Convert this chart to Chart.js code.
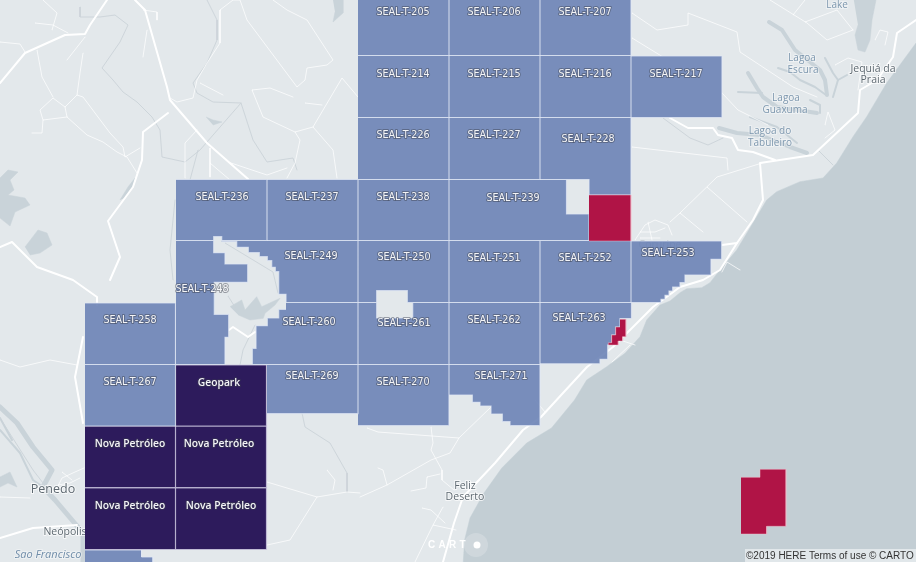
<!DOCTYPE html>
<html>
<head>
<meta charset="utf-8">
<title>SEAL blocks</title>
<script src="https://cdn.jsdelivr.net/npm/chart.js@4"></script>
<style>
    html, body { margin: 0; padding: 0; background: #e3e8eb; overflow: hidden; }
    canvas { display: block; }
</style>
</head>
<body>
<canvas id="mapChart" width="916" height="562"></canvas>
<script>
// Block names, the group each one falls in, and its outline (x, y pairs)
const blockNames = [
    'SEAL-T-205', 'SEAL-T-206', 'SEAL-T-207',
    'SEAL-T-214', 'SEAL-T-215', 'SEAL-T-216', 'SEAL-T-217',
    'SEAL-T-226', 'SEAL-T-227', 'SEAL-T-228',
    'SEAL-T-236', 'SEAL-T-237', 'SEAL-T-238', 'SEAL-T-239',
    'SEAL-T-248', 'SEAL-T-249', 'SEAL-T-250', 'SEAL-T-251', 'SEAL-T-252', 'SEAL-T-253',
    'SEAL-T-258', 'SEAL-T-260', 'SEAL-T-261', 'SEAL-T-262', 'SEAL-T-263',
    'SEAL-T-267', 'SEAL-T-269', 'SEAL-T-270', 'SEAL-T-271',
    'Geopark', 'Nova Petróleo', 'Nova Petróleo', 'Nova Petróleo', 'Nova Petróleo'
];
const blockGroups = [
    'open', 'open', 'open',
    'open', 'open', 'open', 'open',
    'open', 'open', 'open',
    'open', 'open', 'open', 'open',
    'open', 'open', 'open', 'open', 'open', 'open',
    'open', 'open', 'open', 'open', 'open',
    'open', 'open', 'open', 'open',
    'held', 'held', 'held', 'held', 'held'
];
const blockOutlines = [
    [358, -6, 449, -6, 449, 55.5, 358, 55.5],
    [449, -6, 540, -6, 540, 55.5, 449, 55.5],
    [540, -6, 631, -6, 631, 55.5, 540, 55.5],
    [358, 55.5, 449, 55.5, 449, 117.5, 358, 117.5],
    [449, 55.5, 540, 55.5, 540, 117.5, 449, 117.5],
    [540, 55.5, 631, 55.5, 631, 117.5, 540, 117.5],
    [631, 56, 722, 56, 722, 117.5, 631, 117.5],
    [358, 117.5, 449, 117.5, 449, 179.5, 358, 179.5],
    [449, 117.5, 540, 117.5, 540, 179.5, 449, 179.5],
    [540, 117.5, 631, 117.5, 631, 195, 589, 195, 589, 179.5, 540, 179.5],
    [176, 179.5, 267, 179.5, 267, 240.5, 221.7, 240.5, 221.7, 236.7, 213.7, 236.7, 213.7, 240.5, 176, 240.5],
    [267, 179.5, 358, 179.5, 358, 240.5, 267, 240.5],
    [358, 179.5, 449, 179.5, 449, 240.5, 358, 240.5],
    [449, 179.5, 566.5, 179.5, 566.5, 214, 589, 214, 589, 240.5, 449, 240.5],
    [176, 240.5, 213.7, 240.5, 213.7, 252.7, 225, 252.7, 225, 264, 247.7, 264, 247.7, 282.3, 214.3, 282.3, 214.3, 314.3, 228.7, 314.3, 228.7, 337.3, 225, 337.3, 225, 364.5, 176, 364.5],
    [221.7, 240.5, 358, 240.5, 358, 302.5, 286, 302.5, 286, 294.3, 278.7, 294.3, 278.7, 271.7, 275.3, 271.7, 275.3, 267.3, 271.7, 267.3, 271.7, 260.7, 267.3, 260.7, 267.3, 256.7, 259.3, 256.7, 259.3, 252.7, 248.3, 252.7, 248.3, 247.3, 236.7, 247.3, 236.7, 241.7, 221.7, 241.7],
    [358, 240.5, 449, 240.5, 449, 302.5, 407.3, 302.5, 407.3, 290.7, 376.7, 290.7, 376.7, 302.5, 358, 302.5],
    [449, 240.5, 540, 240.5, 540, 302.5, 449, 302.5],
    [540, 240.5, 631, 240.5, 631, 302.5, 540, 302.5],
    [631, 241, 721.7, 241, 721.7, 259.3, 711, 259.3, 711, 275, 685, 275, 685, 282.7, 680, 282.7, 680, 287, 672.7, 287, 672.7, 291, 669, 291, 669, 295.3, 665, 295.3, 665, 299.3, 661, 299.3, 661, 302.5, 631, 302.5],
    [85, 303, 175.5, 303, 175.5, 364.5, 85, 364.5],
    [286, 302.5, 358, 302.5, 358, 364.5, 252.3, 364.5, 252.3, 348.3, 256, 348.3, 256, 325.7, 267.3, 325.7, 267.3, 318, 278.7, 318, 278.7, 309.3, 286, 309.3],
    [358, 302.5, 376.7, 302.5, 376.7, 318, 412.7, 318, 412.7, 302.5, 449, 302.5, 449, 364.5, 358, 364.5],
    [449, 302.5, 540, 302.5, 540, 364.5, 449, 364.5],
    [540, 302.5, 631.5, 302.5, 631.5, 318.5, 620, 318.5, 620, 327, 615.7, 327, 615.7, 335, 611.7, 335, 611.7, 342.7, 607.7, 345, 607.7, 359.3, 600, 359.3, 600, 363.8, 540, 363.8],
    [85, 364.5, 175.5, 364.5, 175.5, 426, 85, 426],
    [267, 364.5, 358, 364.5, 358, 413.7, 267, 413.7],
    [358, 364.5, 449, 364.5, 449, 425.7, 358, 425.7],
    [449, 364.5, 540, 364.5, 540, 425.7, 510, 425.7, 510, 421.7, 502.3, 421.7, 502.3, 414, 491, 414, 491, 406, 480, 406, 480, 402.3, 472.3, 402.3, 472.3, 395, 449, 395],
    [175.5, 365, 266.5, 365, 266.5, 426, 175.5, 426],
    [85, 426, 175.5, 426, 175.5, 487.7, 85, 487.7],
    [175.5, 426, 266.5, 426, 266.5, 487.7, 175.5, 487.7],
    [85, 487.7, 175.5, 487.7, 175.5, 549.5, 85, 549.5],
    [175.5, 487.7, 266.5, 487.7, 266.5, 549.5, 175.5, 549.5]
];
const blockLabelX = [403, 494, 585, 403, 494, 585, 676, 403, 494, 588, 222, 312, 403, 513, 202, 311, 404, 494, 585, 668, 130, 309, 404, 494, 579, 130, 312, 403, 501, 219, 130, 219, 130, 221];
const blockLabelY = [12, 12, 12, 74, 74, 74, 74, 135, 135, 139, 197, 197, 197, 198, 289, 256, 257, 258, 258, 253, 320, 322, 323, 320, 318, 382, 376, 382, 376, 383, 444, 444, 506, 506];

// Blocks without a name on the map
const unnamedBlocks = [
    [85, 550, 141.5, 550, 141.5, 557, 153, 557, 153, 570, 85, 570]
];
const redBlocks = [
    [589, 195, 631, 195, 631, 241, 589, 241],
    [620, 319.3, 626, 319.3, 626, 336.7, 622.7, 336.7, 622.7, 341, 618.3, 341, 618.3, 345, 608.3, 345, 608.3, 342.7, 611.7, 342.7, 611.7, 335, 615.7, 335, 615.7, 327, 620, 327],
    [741, 477.3, 760, 477.3, 760, 469.3, 786, 469.3, 786, 526.3, 766.7, 526.3, 766.7, 534, 741, 534]
];

// Coast and water
const seaOutline = [916, 43, 886.7, 83, 866.7, 116.7, 853, 136.7, 836.7, 163, 823, 178, 800, 181.7, 776.7, 191.7, 766.7, 200, 753, 223, 736.7, 250, 721.7, 267.7, 710, 282.7, 701.7, 287.7, 686.7, 288.7, 680, 292.7, 670, 301, 660, 305, 646.7, 320, 640, 336.7, 625, 353.3, 606.7, 366.7, 586.7, 380, 574.5, 400, 551.5, 428, 526.7, 443, 501.8, 468, 484, 493, 470, 518, 464.6, 540, 462.8, 570, 930, 570, 930, 43];
const lakeOutlines = [
    [853, -5, 877, -5, 872, 20, 870, 40, 865, 52, 858, 50, 855, 35, 858, 25],
    [333, 0, 343, 0, 343, 13, 333, 22, 335, 12],
    [206, 117, 213, 120, 222, 122, 213, 125],
    [120, 200, 128, 187, 135, 178, 132, 188, 125, 198],
    [0, 178, 8, 170, 18, 172, 10, 180, 14, 190, 8, 195, 25, 198, 30, 205, 15, 212, 10, 226, 0, 218],
    [25, 247, 38, 230, 47, 233, 52, 245, 40, 253, 30, 255],
    [0, 477, 10, 472, 17, 487, 8, 483, 0, 487],
    [230, 306.7, 241.7, 300, 245, 310, 256.7, 296.7, 261.7, 306.7, 280, 298.3, 275, 305, 265, 313.3, 263.3, 318.3, 250, 320, 238.3, 315]
];
const riverWide = [
    [0, 407, 17, 423, 33, 447, 52, 470, 43, 487, 55, 500, 83, 533, 83, 562]
];
const lagoonMid = [
    [769, 22, 782, 30, 795, 50, 805, 58, 820, 70, 825, 80, 827, 95],
    [748, 73, 757, 88, 763, 97, 777, 107, 817, 113],
    [719, 128, 737, 133, 760, 135, 790, 147, 807, 153]
];
const waterNarrow = [
    [0, 430, 20, 453, 33, 480, 43, 487],
    [0, 418, 12, 440],
    [778, 68, 790, 72, 800, 80, 815, 87, 826, 95],
    [825, 58, 833, 73, 838, 80, 833, 97],
    [838, 80, 847, 75],
    [738, 92, 762, 93],
    [810, 100, 820, 105, 820, 113],
    [750, 117, 777, 127, 797, 143]
];

// Roads, streams
const mainRoads = [
    [0, 83, 25, 53, 65, 35, 85, 34, 90, 25, 107, 0],
    [135, 0, 145, 10, 167, 87, 170, 100, 207, 143, 248, 179],
    [168, 113, 143, 132, 142, 160, 133, 187, 108, 221, 120, 257, 110, 280],
    [0, 247, 12, 242, 37, 267, 73, 280, 97, 297, 97, 305],
    [83, 337, 75, 377, 83, 423],
    [916, 20, 897, 33, 893, 57, 877, 80, 860, 90, 858, 113, 813, 155, 760, 163, 763, 200, 753, 220, 737, 243, 722, 245],
    [670, 118, 688, 128, 713, 128, 718, 135, 732, 138, 738, 150, 753, 152, 775, 160],
    [737, 243, 720, 270, 703, 280, 680, 287, 653, 307, 613, 347, 587, 367, 563, 393, 541, 417, 523, 430, 495, 463, 463, 497, 454, 523, 443, 562],
    [0, 538, 33, 528, 77, 525],
    [229, 330, 233, 327, 248, 337, 255, 332]
];
const sideRoads = [
    [0, 42, 20, 44, 25, 52], [35, 23, 53, 25, 68, 33], [52, 30, 57, 13, 43, 0], [85, 37, 67, 60],
    [83, 53, 80, 73, 77, 95, 65, 107, 67, 117, 87, 135, 103, 142, 117, 152, 127, 157, 137, 173],
    [77, 95, 83, 97, 110, 133, 123, 147, 125, 157, 140, 148],
    [65, 107, 53, 98, 40, 110, 43, 120, 42, 133, 32, 133], [43, 120, 67, 117],
    [37, 50, 42, 77, 53, 97], [143, 10, 157, 12, 157, 20], [147, 30, 143, 57],
    [220, 10, 220, 43, 207, 63, 197, 80, 193, 98, 177, 102, 170, 98],
    [220, 10, 233, 0, 240, 0, 247, 20, 297, 87, 305, 80, 307, 68, 327, 65, 333, 60, 307, 20, 287, 10, 273, 0],
    [252, 90, 270, 88, 293, 97], [252, 90, 263, 117, 295, 132, 313, 127, 342, 78, 358, 97],
    [295, 132, 300, 140, 295, 163, 287, 178], [313, 127, 333, 150, 337, 178], [305, 103, 322, 105],
    [200, 83, 223, 95], [185, 178, 185, 143, 197, 130], [210, 148, 210, 177], [210, 163, 230, 180],
    [228, 162, 267, 175, 287, 168],
    [0, 360, 20, 367, 50, 360, 77, 365], [0, 497, 30, 498], [267, 482, 317, 497, 347, 492, 360, 493],
    [267, 545, 290, 540, 317, 497], [327, 470, 335, 480, 333, 490],
    [632, 13, 657, 30, 688, 25, 688, 13, 737, 32, 740, 52, 793, 87, 817, 97],
    [632, 147, 727, 158, 728, 170], [762, 163, 717, 177, 680, 213, 670, 222], [707, 187, 747, 222], [680, 213, 703, 232],
    [632, 38, 663, 57], [722, 93, 738, 110, 768, 125],
    [770, 0, 807, 23, 827, 40, 853, 30], [805, 22, 837, 10, 853, 30], [793, 15, 805, 0],
    [875, 40, 880, 30, 888, 32, 885, 45], [835, 65, 848, 58, 862, 62, 858, 90], [825, 125, 828, 112, 835, 130, 825, 138],
    [635, 240, 645, 225, 655, 220, 668, 225, 672, 235], [640, 232, 655, 232, 665, 228], [640, 238, 660, 238], [648, 222, 652, 240],
    [55, 492, 62, 478, 75, 472, 84, 468], [58, 485, 70, 483, 80, 478], [62, 472, 72, 480],
    [367, 428, 378, 432, 459, 438, 450, 453, 431, 460, 387, 485, 360, 497], [431, 427, 433, 443, 431, 450, 442, 470, 442, 480, 454, 490],
    [491, 407, 459, 438], [427, 477, 440, 474], [427, 477, 426, 488, 411, 491], [387, 485, 383, 470, 378, 468],
    [422, 508, 431, 510, 445, 523], [433, 525, 456, 530], [443, 507, 433, 525, 415, 562],
    [630, 345, 612, 362], [620, 340, 635, 345], [535, 400, 545, 412], [740, 270, 727, 262, 722, 272]
];
const streams = [
    [80, 7, 80, 17, 100, 17, 115, 15, 128, 25, 120, 42, 102, 68, 113, 80, 123, 92, 137, 102, 152, 117, 160, 130, 162, 157, 185, 162, 200, 150, 241, 103],
    [207, 0, 217, 20, 217, 40, 207, 63, 193, 83, 197, 93, 213, 102, 241, 103, 253, 140, 267, 162, 293, 158, 297, 170],
    [173, 280, 170, 250, 175, 200], [198, 150, 190, 180], [255, 325, 243, 350, 240, 365],
    [663, 118, 690, 138, 708, 145, 723, 138], [818, 150, 833, 165], [302, 413, 305, 427, 330, 443, 347, 473, 347, 492],
    [0, 418, 33, 470, 60, 505, 83, 535], [225, 243, 273, 272, 278, 293], [228, 296, 235, 307]
];

// Place names under the blocks: text, x, y
const placeNames = ['Lake', 'Lagoa', 'Escura', 'Lagoa', 'Guaxuma', 'Lagoa do', 'Tabuleiro', 'Sao Francisco', 'Jequiá da', 'Praia', 'Penedo', 'Neópolis', 'Feliz', 'Deserto', 'Coruripe'];
const placeX = [837, 802, 803, 786, 785, 770, 770, 48, 873, 873, 53, 65, 465, 465, 660];
const placeY = [5, 58, 70, 98, 110, 131, 143, 555, 69, 80, 489, 532, 486, 497, 245];
const placeKinds = ['water', 'water', 'water', 'water', 'water', 'water', 'water', 'river', 'town', 'town', 'city', 'town', 'town', 'town', 'faded'];

const creditText = '©2019 HERE Terms of use © CARTO';

function toPoints(flat) {
    const pts = [];
    for (let i = 0; i < flat.length; i += 2) {
        pts.push({ x: flat[i], y: flat[i + 1] });
    }
    return pts;
}

function area(flat, color, border, borderWidth) {
    return { data: toPoints(flat), showLine: true, fill: 'shape', backgroundColor: color, borderColor: border, borderWidth: borderWidth, pointRadius: 0, tension: 0 };
}

function path(flat, color, width) {
    return { data: toPoints(flat), showLine: true, fill: false, borderColor: color, borderWidth: width, pointRadius: 0, tension: 0, borderJoinStyle: 'round', borderCapStyle: 'round' };
}

const groupFill = { open: 'rgba(108, 131, 182, 0.9)', held: 'rgba(43, 24, 90, 0.99)' };
const groupEdge = { open: 'rgba(226, 232, 244, 0.75)', held: 'rgba(205, 200, 225, 0.8)' };
const inlandWater = '#c9d3d9';

// first dataset is drawn on top, so blocks go first and the sea last
const topLayers = [];
redBlocks.forEach(b => topLayers.push(area(b, 'rgb(176, 20, 70)', 'rgba(240, 190, 205, 0.6)', 0.8)));
blockOutlines.forEach((b, i) => topLayers.push(area(b, groupFill[blockGroups[i]], groupEdge[blockGroups[i]], 1.2)));
unnamedBlocks.forEach(b => topLayers.push(area(b, groupFill.open, groupEdge.open, 1)));
const baseStart = topLayers.length;
const datasets = topLayers.concat(
    mainRoads.map(r => path(r, '#ffffff', 2)),
    sideRoads.map(r => path(r, 'rgba(255, 255, 255, 0.8)', 0.9)),
    streams.map(r => path(r, '#cbd3d8', 0.9)),
    waterNarrow.map(r => path(r, inlandWater, 2)),
    lagoonMid.map(r => path(r, inlandWater, 4)),
    riverWide.map(r => path(r, inlandWater, 5)),
    lakeOutlines.map(l => area(l, inlandWater, inlandWater, 0.5)),
    [area(seaOutline, '#c3ced4', '#c3ced4', 0.5)]
);

const placeFonts = {
    water: { font: '10px "Open Sans"', color: '#7d97ae', stroke: 'rgba(255,255,255,0.4)' },
    river: { font: 'italic 11px "Open Sans"', color: '#6f8ca8', stroke: 'rgba(255,255,255,0.4)' },
    town: { font: '10.5px "Open Sans"', color: '#5d6870', stroke: 'rgba(255,255,255,0.7)' },
    city: { font: '12.5px "Open Sans"', color: '#5d6870', stroke: 'rgba(255,255,255,0.7)' },
    faded: { font: '10.5px "Open Sans"', color: '#aab4bb', stroke: 'rgba(255,255,255,0)' }
};

// Place names sit under the blocks, block names and credits on top
const mapText = {
    id: 'mapText',
    afterDatasetDraw(chart, args) {
        if (args.index !== baseStart) return;
        const { ctx, scales } = chart;
        ctx.save();
        ctx.textAlign = 'center';
        ctx.textBaseline = 'middle';
        placeNames.forEach((name, i) => {
            const style = placeFonts[placeKinds[i]];
            const px = scales.x.getPixelForValue(placeX[i]);
            const py = scales.y.getPixelForValue(placeY[i]);
            ctx.font = style.font;
            ctx.lineWidth = 2;
            ctx.strokeStyle = style.stroke;
            ctx.strokeText(name, px, py);
            ctx.fillStyle = style.color;
            ctx.fillText(name, px, py);
        });
        ctx.restore();
    },
    afterDraw(chart) {
        const { ctx, scales } = chart;
        ctx.save();
        ctx.textAlign = 'center';
        ctx.textBaseline = 'middle';
        blockNames.forEach((name, i) => {
            const px = scales.x.getPixelForValue(blockLabelX[i]);
            const py = scales.y.getPixelForValue(blockLabelY[i]);
            ctx.font = blockGroups[i] === 'held' ? '600 10.3px "Open Sans"' : '9.6px "DejaVu Sans"';
            ctx.lineJoin = 'round';
            ctx.lineWidth = 2;
            ctx.strokeStyle = 'rgba(60, 65, 75, 0.45)';
            ctx.strokeText(name, px, py);
            ctx.fillStyle = '#f4f5f7';
            ctx.fillText(name, px, py);
        });

        // CARTO mark
        ctx.fillStyle = 'rgba(255, 255, 255, 0.2)';
        ctx.beginPath();
        ctx.arc(476, 545, 12, 0, Math.PI * 2);
        ctx.fill();
        ctx.fillStyle = '#ffffff';
        ctx.beginPath();
        ctx.arc(477, 545, 3.5, 0, Math.PI * 2);
        ctx.fill();
        ctx.font = 'bold 10px "Liberation Sans"';
        ctx.textAlign = 'left';
        ['C', 'A', 'R', 'T'].forEach((c, i) => ctx.fillText(c, 428 + i * 10.5, 545));

        // credit line
        ctx.fillStyle = 'rgba(255, 255, 255, 0.5)';
        ctx.fillRect(745, 549, 171, 13);
        ctx.font = '10px "Liberation Sans"';
        ctx.fillStyle = '#333333';
        ctx.fillText(creditText, 746, 556);
        ctx.restore();
    }
};

const mapChart = new Chart(document.getElementById('mapChart').getContext('2d'), {
    type: 'scatter',
    data: { datasets: datasets },
    options: {
        responsive: false,
        animation: false,
        layout: { padding: 0 },
        scales: {
            x: { type: 'linear', min: 0, max: 916, display: false },
            y: { type: 'linear', min: 0, max: 562, reverse: true, display: false }
        },
        plugins: {
            legend: { display: false },
            tooltip: { enabled: false }
        }
    },
    plugins: [mapText]
});
</script>
</body>
</html>
